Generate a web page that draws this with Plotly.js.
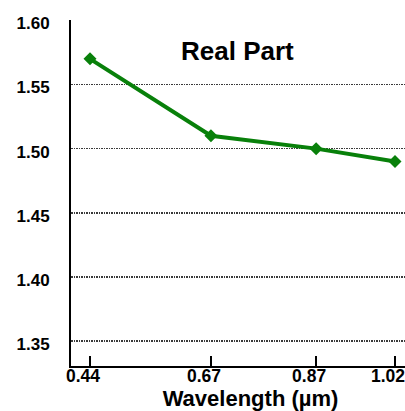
<!DOCTYPE html>
<html>
<head>
<meta charset="utf-8">
<script src="https://cdn.plot.ly/plotly-3.0.1.min.js"></script>
<style>
html,body{margin:0;padding:0;overflow:hidden;background:#fff;width:405px;height:411px;}
#chart{width:430px;height:411px;}
</style>
</head>
<body>
<div id="chart"></div>
<script>
var wavelengths = [0.44, 0.67, 0.87, 1.02];
var xTickLabels = ['0.44', '0.67', '0.87', '1.02'];
var realPart = [1.57, 1.51, 1.50, 1.49];
var yTickVals = [1.35, 1.40, 1.45, 1.50, 1.55, 1.60];
var yTickLabels = ['1.35', '1.40', '1.45', '1.50', '1.55', '1.60'];

var FONT = 'Liberation Sans, Arial, Helvetica, sans-serif';

var trace = {
  x: wavelengths,
  y: realPart,
  type: 'scatter',
  mode: 'lines+markers',
  line: {color: '#08800a', width: 4},
  marker: {symbol: 'diamond', size: 10, color: '#08800a'},
  hoverinfo: 'none',
  cliponaxis: false
};

var layout = {
  width: 430,
  height: 411,
  margin: {l: 71, r: 0, t: 20, b: 45, pad: 0},
  paper_bgcolor: '#ffffff',
  plot_bgcolor: '#ffffff',
  showlegend: false,
  font: {family: FONT, color: '#000', size: 17, weight: 'bold'},
  xaxis: {
    range: [0.4039, 1.0865],
    tickvals: wavelengths,
    ticktext: xTickLabels,
    ticks: 'inside',
    ticklen: 10,
    tickwidth: 2,
    tickcolor: '#000',
    showgrid: false,
    zeroline: false,
    showline: true,
    linecolor: '#000',
    linewidth: 2,
    ticklabelshift: -7,
    ticklabelstandoff: -7,
    tickfont: {family: FONT, size: 17.5, color: '#000', weight: 'bold'},
    title: {text: 'Wavelength (µm)', font: {family: FONT, size: 22, color: '#000', weight: 'bold'}, standoff: 0},
    automargin: false,
    fixedrange: true
  },
  yaxis: {
    range: [1.3305, 1.6003],
    tickvals: yTickVals,
    ticktext: yTickLabels,
    ticks: '',
    showgrid: true,
    gridcolor: '#3a3a3a',
    gridwidth: 1.6,
    griddash: '1.5px,1px',
    zeroline: false,
    showline: true,
    linecolor: '#000',
    linewidth: 2,
    ticklabelshift: 3,
    ticklabelstandoff: 16,
    tickfont: {family: FONT, size: 17, color: '#000', weight: 'bold'},
    automargin: false,
    fixedrange: true
  },
  annotations: [{
    text: 'Real Part',
    xref: 'paper', yref: 'paper',
    x: 0.465, y: 0.91,
    xanchor: 'center', yanchor: 'middle',
    showarrow: false,
    font: {family: FONT, size: 26, color: '#000', weight: 'bold'}
  }]
};

Plotly.newPlot('chart', [trace], layout, {displayModeBar: false, staticPlot: true});
</script>
</body>
</html>
